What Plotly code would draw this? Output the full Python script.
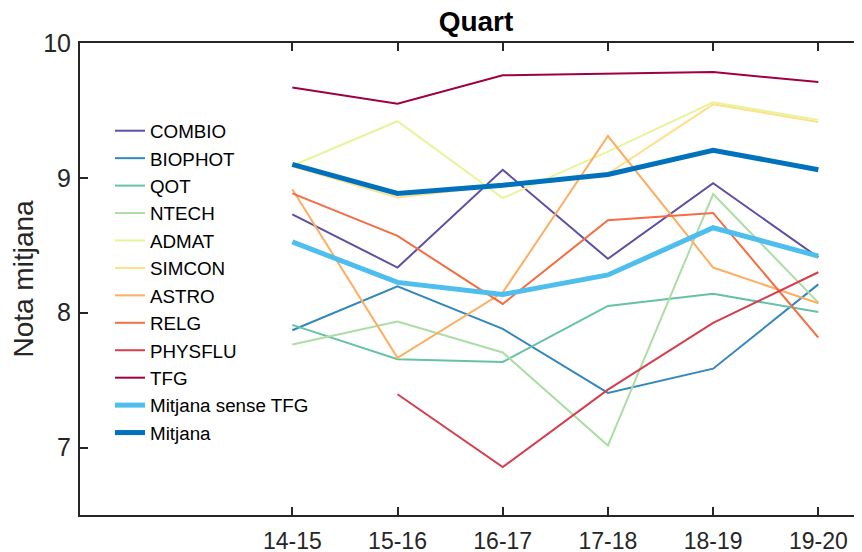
import plotly.graph_objects as go

years = ["14-15", "15-16", "16-17", "17-18", "18-19", "19-20"]

COMBIO = [8.73, 8.335, 9.06, 8.40, 8.96, 8.41]
BIOPHOT = [7.87, 8.195, 7.88, 7.405, 7.585, 8.21]
QOT = [7.91, 7.655, 7.635, 8.05, 8.14, 8.005]
NTECH = [7.765, 7.935, 7.705, 7.015, 8.88, 8.075]
ADMAT = [9.09, 9.42, 8.85, 9.195, 9.56, 9.43]
SIMCON = [9.085, 8.855, 8.945, 9.03, 9.545, 9.415]
ASTRO = [8.915, 7.665, 8.15, 9.31, 8.335, 8.07]
RELG = [8.885, 8.57, 8.065, 8.685, 8.74, 7.815]
PHYSFLU = [None, 7.395, 6.855, 7.43, 7.925, 8.30]
TFG = [9.67, 9.55, 9.76, 9.77, 9.785, 9.71]
MITJANA_SENSE_TFG = [8.525, 8.225, 8.135, 8.28, 8.63, 8.42]
MITJANA = [9.10, 8.885, 8.945, 9.025, 9.205, 9.06]

series = [
    ("COMBIO", COMBIO, "#5e4fa2", 2),
    ("BIOPHOT", BIOPHOT, "#3288bd", 2),
    ("QOT", QOT, "#66c2a5", 2),
    ("NTECH", NTECH, "#abdda4", 2),
    ("ADMAT", ADMAT, "#e6f598", 2),
    ("SIMCON", SIMCON, "#fee08b", 2),
    ("ASTRO", ASTRO, "#fdae61", 2),
    ("RELG", RELG, "#f46d43", 2),
    ("PHYSFLU", PHYSFLU, "#d53e4f", 2),
    ("TFG", TFG, "#9e0142", 2),
    ("Mitjana sense TFG", MITJANA_SENSE_TFG, "#4dbeee", 5),
    ("Mitjana", MITJANA, "#0072bd", 5),
]

xpos = list(range(len(years)))

fig = go.Figure()
for name, vals, color, w in series:
    fig.add_trace(go.Scatter(
        x=xpos, y=vals, mode="lines", name=name,
        line=dict(color=color, width=w),
        connectgaps=False,
    ))

font_family = "Liberation Sans, Arial, sans-serif"

# page body has an 8px margin; figure sized so it fits the window
W, H = 854, 544
L, R, T, B = 72, 0, 35, 37
PW = W - L - R
PH = H - T - B

fig.update_layout(
    width=W, height=H,
    margin=dict(l=L, r=R, t=T, b=B, autoexpand=False),
    plot_bgcolor="white", paper_bgcolor="white",
    font=dict(family=font_family, color="#262626"),
    title=dict(text="<b>Quart</b>", x=468 / W, xanchor="center", y=1 - 13 / H, yanchor="middle",
               font=dict(size=28, color="black", family=font_family)),
    showlegend=True,
    legend=dict(x=(102 - L) / PW, y=(H - B - 104) / PH, xanchor="left", yanchor="top",
                font=dict(size=18.8, color="black", family=font_family),
                bgcolor="rgba(0,0,0,0)", borderwidth=0, tracegroupgap=0),
    xaxis=dict(
        range=[-2.018, 5.415], tickmode="array", tickvals=xpos, ticktext=years,
        showgrid=False, zeroline=False, showline=True, linecolor="#262626", linewidth=2,
        mirror="ticks", ticks="inside", ticklen=8, tickwidth=2, tickcolor="#262626",
        tickfont=dict(size=23, color="#262626"), automargin=False, ticklabelstandoff=4,
    ),
    yaxis=dict(
        range=[6.5, 10], tickmode="array", tickvals=[7, 8, 9, 10],
        showgrid=False, zeroline=False, showline=True, linecolor="#262626", linewidth=2,
        mirror=False, ticks="inside", ticklen=8, tickwidth=2, tickcolor="#262626",
        tickfont=dict(size=25, color="#262626"), automargin=False, ticklabelstandoff=2,
        title=dict(text="Nota mitjana", font=dict(size=28, color="#262626"), standoff=2),
    ),
)

fig.write_html("out.html")
